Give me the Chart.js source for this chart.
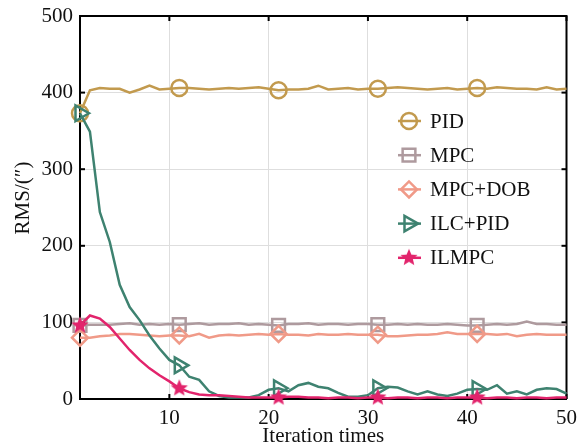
<!DOCTYPE html>
<html><head><meta charset="utf-8">
<script src="https://cdn.jsdelivr.net/npm/chart.js@4.4.0/dist/chart.umd.min.js"></script>
<style>html,body{margin:0;padding:0;background:#fff;}#wrap{width:578px;height:446px;}</style>
</head><body><div id="wrap"><canvas id="c" width="578" height="446"></canvas></div>
<script>
const iterations = [1,2,3,4,5,6,7,8,9,10,11,12,13,14,15,16,17,18,19,20,21,22,23,24,25,26,27,28,29,30,31,32,33,34,35,36,37,38,39,40,41,42,43,44,45,46,47,48,49,50];
const seriesNames = ['PID','MPC','MPC+DOB','ILC+PID','ILMPC'];
const pidRMS = [373,403,406,405,405,400,404,409,404,405,406,406,405,404,405,406,405,406,407,405,403,404,404,405,409,404,405,406,404,405,405,406,407,406,405,404,405,406,404,405,406,405,407,406,405,405,404,407,404,405];
const mpcRMS = [96,97,97,97,98,99,97,98,97,98,97,98,99,97,98,98,99,97,98,97,96,98,98,99,97,98,98,97,98,98,97,97,98,97,98,97,97,98,97,96,96,97,98,97,98,101,98,98,97,97];
const mpcDobRMS = [80,80,82,83,85,85,84,83,82,83,83,82,85,80,83,84,83,84,85,84,85,84,84,83,85,84,84,85,84,84,84,82,82,83,84,84,85,87,85,85,85,85,84,85,82,84,85,84,84,84];
const ilcPidRMS = [373,349,244,205,149,120,103,83,66,51,44,29,25,10,4,2,2,2,5,12,14,10,18,21,16,14,8,3,3,5,14,16,15,10,6,10,6,4,7,12,13,12,18,7,10,6,12,14,13,7];
const ilmpcRMS = [96,109,105,94,79,64,51,40,31,23,14,9,6,5,5,4,3,2,2,2,2,3,3,2,2,1,2,2,1,2,2,1,2,2,1,2,2,1,2,2,2,1,2,2,1,2,2,1,2,2];
const xTickValues = [10,20,30,40,50];
const yTickValues = [0,100,200,300,400,500];
const xTitle = 'Iteration times';
const yTitle = 'RMS/(″)';

const colors = ['#C29A4E','#AE9A9E','#F09A88','#3E8270','#E2246C'];
const FONT = 'Liberation Serif, Times New Roman, serif';
const FS = 21;

function makeStar(r, color){
  const s = Math.ceil(r*2+2);
  const c = document.createElement('canvas'); c.width = s; c.height = s;
  const g = c.getContext('2d'); g.fillStyle = color; g.beginPath();
  for (let i=0;i<10;i++){ const rr = i%2 ? r*0.45 : r; const a = -Math.PI/2 + i*Math.PI/5; g.lineTo(s/2+rr*Math.cos(a), s/2+rr*Math.sin(a)); }
  g.closePath(); g.fill(); return c;
}
const starImg = makeStar(9, colors[4]);

const styles = [
  {pointStyle:'circle', radius:8, rotation:0},
  {pointStyle:'rect', radius:9, rotation:0},
  {pointStyle:'rectRot', radius:8, rotation:0},
  {pointStyle:'triangle', radius:9, rotation:90},
  {pointStyle:starImg, radius:9, rotation:0}
];
const allSeries = [pidRMS, mpcRMS, mpcDobRMS, ilcPidRMS, ilmpcRMS];

const datasets = allSeries.map((arr, k) => ({
  label: seriesNames[k],
  data: arr.map((v,i)=>({x: iterations[i], y: v})),
  borderColor: colors[k],
  backgroundColor: 'rgba(0,0,0,0)',
  pointBackgroundColor: 'rgba(0,0,0,0)',
  pointBorderColor: colors[k],
  pointBorderWidth: 2.5,
  borderWidth: 2.5,
  tension: 0,
  pointStyle: styles[k].pointStyle,
  pointRotation: styles[k].rotation,
  pointRadius: (ctx) => ctx.dataIndex % 10 === 0 ? styles[k].radius : 0,
  pointHoverRadius: 0,
  clip: false,
  order: 5 - k
}));

const framePlugin = {
  id: 'frame',
  beforeDatasetsDraw(chart){
    const {ctx, chartArea:a, scales:{x,y}} = chart;
    ctx.save();
    ctx.strokeStyle = '#000'; ctx.lineWidth = 2;
    ctx.beginPath();
    ctx.moveTo(a.left, a.top); ctx.lineTo(a.right, a.top); ctx.lineTo(a.right, a.bottom);
    ctx.stroke();
    const L = 5;
    xTickValues.forEach(v => {
      const px = x.getPixelForValue(v);
      ctx.beginPath(); ctx.moveTo(px, a.bottom); ctx.lineTo(px, a.bottom - L); ctx.stroke();
      ctx.beginPath(); ctx.moveTo(px, a.top); ctx.lineTo(px, a.top + L); ctx.stroke();
    });
    yTickValues.forEach(v => {
      const py = y.getPixelForValue(v);
      ctx.beginPath(); ctx.moveTo(a.left, py); ctx.lineTo(a.left + L, py); ctx.stroke();
      ctx.beginPath(); ctx.moveTo(a.right, py); ctx.lineTo(a.right - L, py); ctx.stroke();
    });
    ctx.fillStyle = '#111';
    ctx.font = FS + 'px ' + FONT;
    ctx.textAlign = 'center'; ctx.textBaseline = 'middle';
    ctx.translate(23, 198); ctx.rotate(-Math.PI/2);
    ctx.fillText(yTitle, 0, 0);
    ctx.restore();
  }
};

const legendPlugin = {
  id: 'customLegend',
  afterDraw(chart){
    const ctx = chart.ctx;
    const x0 = 409, y0 = 121, dy = 34.2;
    ctx.save();
    seriesNames.forEach((name, k) => {
      const yy = y0 + k*dy;
      ctx.strokeStyle = colors[k]; ctx.lineWidth = 2.5;
      ctx.beginPath(); ctx.moveTo(x0-11, yy); ctx.lineTo(x0+12, yy); ctx.stroke();
      if (k === 4) {
        ctx.drawImage(starImg, x0 - starImg.width/2, yy - starImg.height/2);
      } else {
        ctx.fillStyle = 'rgba(0,0,0,0)';
        Chart.helpers.drawPoint(ctx, {pointStyle: styles[k].pointStyle, rotation: styles[k].rotation, radius: styles[k].radius, borderWidth: 2.5}, x0, yy);
      }
      ctx.fillStyle = '#111';
      ctx.font = FS + 'px ' + FONT;
      ctx.textAlign = 'left'; ctx.textBaseline = 'middle';
      ctx.fillText(name, 430, yy + 1);
    });
    ctx.restore();
  }
};

new Chart(document.getElementById('c'), {
  type: 'line',
  data: { datasets },
  options: {
    responsive: false,
    animation: false,
    devicePixelRatio: 1,
    layout: { padding: { top: 16, right: 9, left: 0, bottom: 0 } },
    plugins: { legend: { display: false }, tooltip: { enabled: false } },
    scales: {
      x: {
        type: 'linear', min: 1, max: 50,
        afterBuildTicks: s => { s.ticks = xTickValues.map(v => ({value: v})); },
        afterFit: s => { s.height = 47; s.paddingRight = 0; s.paddingLeft = 0; },
        grid: { color: '#dedede', lineWidth: 1, drawTicks: false },
        border: { color: '#000', width: 2 },
        ticks: { font: { family: FONT, size: FS }, color: '#111', padding: 7, maxRotation: 0, autoSkip: false },
        title: { display: true, text: xTitle, font: { family: FONT, size: FS, lineHeight: 1 }, color: '#111', padding: { top: 0, bottom: -1 } }
      },
      y: {
        min: 0, max: 500,
        afterBuildTicks: s => { s.ticks = yTickValues.map(v => ({value: v})); },
        afterFit: s => { s.width = 80; s.paddingTop = 0; s.paddingBottom = 0; },
        grid: { color: '#dedede', lineWidth: 1, drawTicks: false },
        border: { color: '#000', width: 2 },
        ticks: { font: { family: FONT, size: FS }, color: '#111', padding: 7 },
        title: { display: false }
      }
    }
  },
  plugins: [framePlugin, legendPlugin]
});
</script></body></html>
